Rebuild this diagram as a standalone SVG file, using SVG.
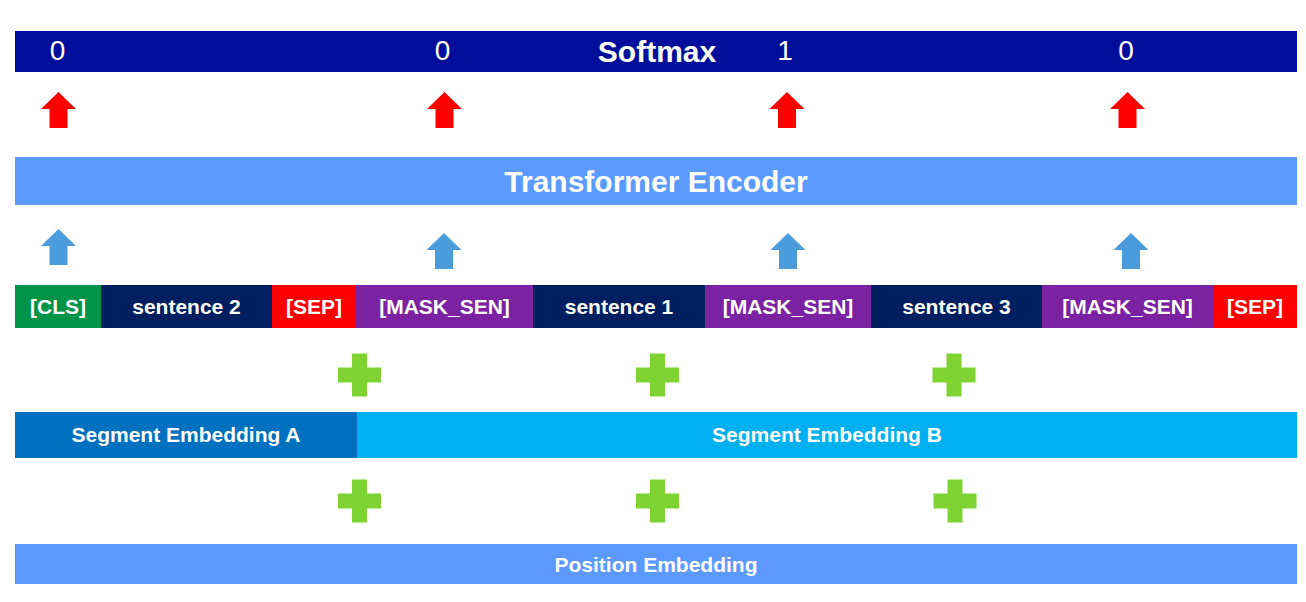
<svg xmlns="http://www.w3.org/2000/svg" xmlns:xlink="http://www.w3.org/1999/xlink" width="1306" height="602" viewBox="0 0 1306 602">
<style>
text{font-family:"Liberation Sans",Arial,Helvetica,sans-serif;fill:#fff;text-anchor:middle}
.tok{font-size:21px;font-weight:bold}
.num{font-size:28px}
.big{font-size:30px;font-weight:bold}
.red{fill:#ff0000}
.blu{fill:#4a9cdc}
.plus{fill:#7ed332}
</style>
<defs>
<path id="arr" d="M0,0 L17.5,17 L9,17 L9,36 L-9,36 L-9,17 L-17.5,17 Z"/>
<path id="pl" d="M-7.5,-21.5 h15 v14 h14 v15 h-14 v14 h-15 v-14 h-14 v-15 h14 z"/>
</defs>
<rect width="1306" height="602" fill="#fff"/>

<g id="softmax">
<rect x="15" y="31" width="1282" height="41" fill="#000f9b"/>
<text class="big" x="657" y="62">Softmax</text>
<text class="num" x="57.5" y="60">0</text>
<text class="num" x="442.5" y="60">0</text>
<text class="num" x="785" y="60">1</text>
<text class="num" x="1126" y="60">0</text>
</g>

<g id="transformer">
<rect x="15" y="157" width="1282" height="48" fill="#5b9bff"/>
<text class="big" x="656" y="192">Transformer Encoder</text>
</g>

<g id="tokens">
<g id="tok-cls"><rect x="15" y="285" width="86" height="43" fill="#00934a"/><text class="tok" x="58" y="314">[CLS]</text></g>
<g id="tok-s2"><rect x="101" y="285" width="171" height="43" fill="#001f60"/><text class="tok" x="186.5" y="314">sentence 2</text></g>
<g id="tok-sep1"><rect x="272" y="285" width="84" height="43" fill="#ff0000"/><text class="tok" x="314" y="314">[SEP]</text></g>
<g id="tok-m1"><rect x="356" y="285" width="177" height="43" fill="#7b22a3"/><text class="tok" x="444.5" y="314">[MASK_SEN]</text></g>
<g id="tok-s1"><rect x="533" y="285" width="172" height="43" fill="#001f60"/><text class="tok" x="619" y="314">sentence 1</text></g>
<g id="tok-m2"><rect x="705" y="285" width="166" height="43" fill="#7b22a3"/><text class="tok" x="788" y="314">[MASK_SEN]</text></g>
<g id="tok-s3"><rect x="871" y="285" width="171" height="43" fill="#001f60"/><text class="tok" x="956.5" y="314">sentence 3</text></g>
<g id="tok-m3"><rect x="1042" y="285" width="171" height="43" fill="#7b22a3"/><text class="tok" x="1127.5" y="314">[MASK_SEN]</text></g>
<g id="tok-sep2"><rect x="1213" y="285" width="84" height="43" fill="#ff0000"/><text class="tok" x="1255" y="314">[SEP]</text></g>
</g>

<g id="segment">
<g id="seg-a"><rect x="15" y="412" width="342" height="46" fill="#0070c0"/><text class="tok" x="186" y="442">Segment Embedding A</text></g>
<g id="seg-b"><rect x="357" y="412" width="940" height="46" fill="#00b0f0"/><text class="tok" x="827" y="442">Segment Embedding B</text></g>
</g>

<g id="position">
<rect x="15" y="544" width="1282" height="40" fill="#5b99ff"/>
<text class="tok" x="656" y="572">Position Embedding</text>
</g>

<g id="plus-signs">
<use xlink:href="#pl" class="plus" x="359.5" y="375"/>
<use xlink:href="#pl" class="plus" x="657.5" y="375"/>
<use xlink:href="#pl" class="plus" x="954" y="375"/>
<use xlink:href="#pl" class="plus" x="359.5" y="501"/>
<use xlink:href="#pl" class="plus" x="657.5" y="501"/>
<use xlink:href="#pl" class="plus" x="955" y="501"/>
</g>

<g id="connectors">
<use xlink:href="#arr" class="red" x="58.5" y="92"/>
<use xlink:href="#arr" class="red" x="444.5" y="92"/>
<use xlink:href="#arr" class="red" x="787" y="92"/>
<use xlink:href="#arr" class="red" x="1127.5" y="92"/>
<use xlink:href="#arr" class="blu" x="58.5" y="229"/>
<use xlink:href="#arr" class="blu" x="444" y="233"/>
<use xlink:href="#arr" class="blu" x="788" y="233"/>
<use xlink:href="#arr" class="blu" x="1131" y="233"/>
</g>
</svg>
